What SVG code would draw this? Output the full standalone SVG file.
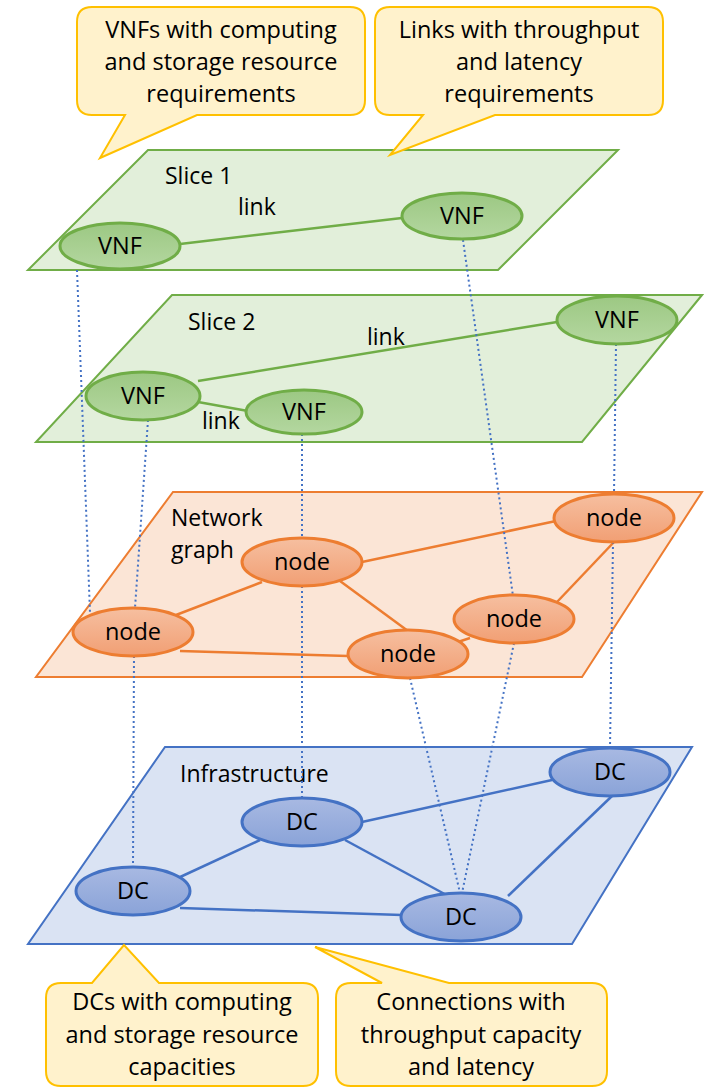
<svg xmlns="http://www.w3.org/2000/svg" width="704" height="1088" viewBox="0 0 704 1088">
<defs>
<linearGradient id="gG" x1="0" y1="0" x2="0" y2="1"><stop offset="0" stop-color="#9CC883"/><stop offset="1" stop-color="#B4D7A0"/></linearGradient>
<linearGradient id="gO" x1="0" y1="0" x2="0" y2="1"><stop offset="0" stop-color="#F6BFA0"/><stop offset="1" stop-color="#F19F74"/></linearGradient>
<linearGradient id="gB" x1="0" y1="0" x2="0" y2="1"><stop offset="0" stop-color="#A8B9E2"/><stop offset="1" stop-color="#8AA3D8"/></linearGradient>
</defs>
<style>
text{font-family:"Open Sans","Liberation Sans",sans-serif;fill:#000}
.co{fill:#FFF2CC;stroke:#FFC000;stroke-width:2;stroke-linejoin:miter}
.ct{font-size:23.5px;text-anchor:middle}
.lbl{font-size:23px}
.nt{font-size:23.5px;text-anchor:middle}
.pg{fill:#E2EFDA;stroke:#70AD47;stroke-width:2}
.po{fill:#FBE5D6;stroke:#ED7D31;stroke-width:2}
.pb{fill:#DAE3F3;stroke:#4472C4;stroke-width:2}
.eg{stroke:#70AD47;stroke-width:2.5;fill:none}
.eo{stroke:#ED7D31;stroke-width:2.5;fill:none}
.eb{stroke:#4472C4;stroke-width:2.5;fill:none}
.ng{fill:url(#gG);stroke:#70AD47;stroke-width:3}
.no{fill:url(#gO);stroke:#ED7D31;stroke-width:3}
.nb{fill:url(#gB);stroke:#4472C4;stroke-width:3}
.dot{stroke:#4472C4;stroke-width:2;stroke-dasharray:2 3;fill:none}
</style>

<!-- planes -->
<g id="plane-infrastructure"><polygon class="pb" points="165,747 692,747 572,944 28,944"/><text class="lbl" x="180" y="782">Infrastructure</text></g>
<g id="plane-network"><polygon class="po" points="173,492 702,492 582,677 36,677"/><text class="lbl" x="171" y="526">Network</text><text class="lbl" x="171" y="558">graph</text></g>
<g id="plane-slice2"><polygon class="pg" points="172,295 702,295 582,442 36,442"/><text class="lbl" x="188" y="330">Slice 2</text></g>
<g id="plane-slice1"><polygon class="pg" points="148,150 618,150 498,270 28,270"/><text class="lbl" x="165" y="184">Slice 1</text></g>

<!-- connectors -->
<g id="connectors">
<line class="eb" x1="362" y1="822" x2="552" y2="780"/>
<line class="eb" x1="178" y1="878" x2="260" y2="840"/>
<line class="eb" x1="345" y1="840" x2="452" y2="898"/>
<line class="eb" x1="180" y1="908" x2="402" y2="915"/>
<line class="eb" x1="508" y1="896" x2="612" y2="796"/>
<line class="eo" x1="362" y1="562" x2="556" y2="521"/>
<line class="eo" x1="176" y1="615" x2="262" y2="582"/>
<line class="eo" x1="340" y1="581" x2="408" y2="631"/>
<line class="eo" x1="180" y1="651" x2="348" y2="656"/>
<line class="eo" x1="455" y1="643" x2="470" y2="638"/>
<line class="eo" x1="557" y1="602" x2="614" y2="542"/>
<line class="eg" x1="198" y1="381" x2="557" y2="322"/>
<line class="eg" x1="198" y1="402" x2="248" y2="411"/>
<text class="lbl" x="367" y="345">link</text>
<text class="lbl" x="202" y="429">link</text>
<line class="eg" x1="180" y1="244" x2="402" y2="218"/>
<text class="lbl" x="238" y="215">link</text>
<line class="dot" x1="77" y1="270" x2="90" y2="613"/>
<line class="dot" x1="463" y1="240" x2="513" y2="596"/>
<line class="dot" x1="148" y1="420" x2="135" y2="608"/>
<line class="dot" x1="302" y1="434" x2="302" y2="538"/>
<line class="dot" x1="616" y1="344" x2="614" y2="494"/>
<line class="dot" x1="134" y1="656" x2="133" y2="867"/>
<line class="dot" x1="302" y1="586" x2="302" y2="798"/>
<line class="dot" x1="410" y1="678" x2="460" y2="893"/>
<line class="dot" x1="514" y1="643" x2="462" y2="893"/>
<line class="dot" x1="613" y1="542" x2="610" y2="748"/>
</g>

<g id="s1-vnf1"><ellipse class="ng" cx="120" cy="246" rx="60" ry="23"/><text class="nt" x="120" y="254">VNF</text></g>
<g id="s1-vnf2"><ellipse class="ng" cx="462" cy="216" rx="60" ry="23"/><text class="nt" x="462" y="224">VNF</text></g>
<g id="s2-vnfA"><ellipse class="ng" cx="143" cy="396" rx="57" ry="24"/><text class="nt" x="143" y="404">VNF</text></g>
<g id="s2-vnfB"><ellipse class="ng" cx="304" cy="412" rx="58" ry="22"/><text class="nt" x="304" y="420">VNF</text></g>
<g id="s2-vnfC"><ellipse class="ng" cx="617" cy="320" rx="60" ry="24"/><text class="nt" x="617" y="328">VNF</text></g>
<g id="n1"><ellipse class="no" cx="302" cy="562" rx="60" ry="24"/><text class="nt" x="302" y="570">node</text></g>
<g id="n2"><ellipse class="no" cx="614" cy="518" rx="60" ry="24"/><text class="nt" x="614" y="526">node</text></g>
<g id="n3"><ellipse class="no" cx="133" cy="632" rx="60" ry="24"/><text class="nt" x="133" y="640">node</text></g>
<g id="n4"><ellipse class="no" cx="514" cy="619" rx="60" ry="24"/><text class="nt" x="514" y="627">node</text></g>
<g id="n5"><ellipse class="no" cx="408" cy="654" rx="60" ry="24"/><text class="nt" x="408" y="662">node</text></g>
<g id="dc1"><ellipse class="nb" cx="302" cy="822" rx="60" ry="24"/><text class="nt" x="302" y="830">DC</text></g>
<g id="dc2"><ellipse class="nb" cx="610" cy="772" rx="60" ry="24"/><text class="nt" x="610" y="780">DC</text></g>
<g id="dc3"><ellipse class="nb" cx="133" cy="891" rx="57" ry="24"/><text class="nt" x="133" y="899">DC</text></g>
<g id="dc4"><ellipse class="nb" cx="461" cy="917" rx="60" ry="24"/><text class="nt" x="461" y="925">DC</text></g>

<g id="callout-vnfs">
<path class="co" d="M92,7 H350 Q365,7 365,22 V100 Q365,115 350,115 H197 L100,158 L125,115 H92 Q77,115 77,100 V22 Q77,7 92,7 Z"/>
<text class="ct" x="221" y="38">VNFs with computing</text>
<text class="ct" x="221" y="70">and storage resource</text>
<text class="ct" x="221" y="102">requirements</text>
</g>
<g id="callout-links">
<path class="co" d="M390,7 H648 Q663,7 663,22 V100 Q663,115 648,115 H495 L390,155 L423,115 H390 Q375,115 375,100 V22 Q375,7 390,7 Z"/>
<text class="ct" x="519" y="38">Links with throughput</text>
<text class="ct" x="519" y="70">and latency</text>
<text class="ct" x="519" y="102">requirements</text>
</g>
<g id="callout-dcs">
<path class="co" d="M61,983 H92 L124,945 L159,983 H303 Q318,983 318,998 V1071 Q318,1086 303,1086 H61 Q46,1086 46,1071 V998 Q46,983 61,983 Z"/>
<text class="ct" x="182" y="1010">DCs with computing</text>
<text class="ct" x="182" y="1043">and storage resource</text>
<text class="ct" x="182" y="1075">capacities</text>
</g>
<g id="callout-connections">
<path class="co" d="M351,983 H382 L315,947 L449,983 H592 Q607,983 607,998 V1071 Q607,1086 592,1086 H351 Q336,1086 336,1071 V998 Q336,983 351,983 Z"/>
<text class="ct" x="471" y="1010">Connections with</text>
<text class="ct" x="471" y="1043">throughput capacity</text>
<text class="ct" x="471" y="1075">and latency</text>
</g>
</svg>
